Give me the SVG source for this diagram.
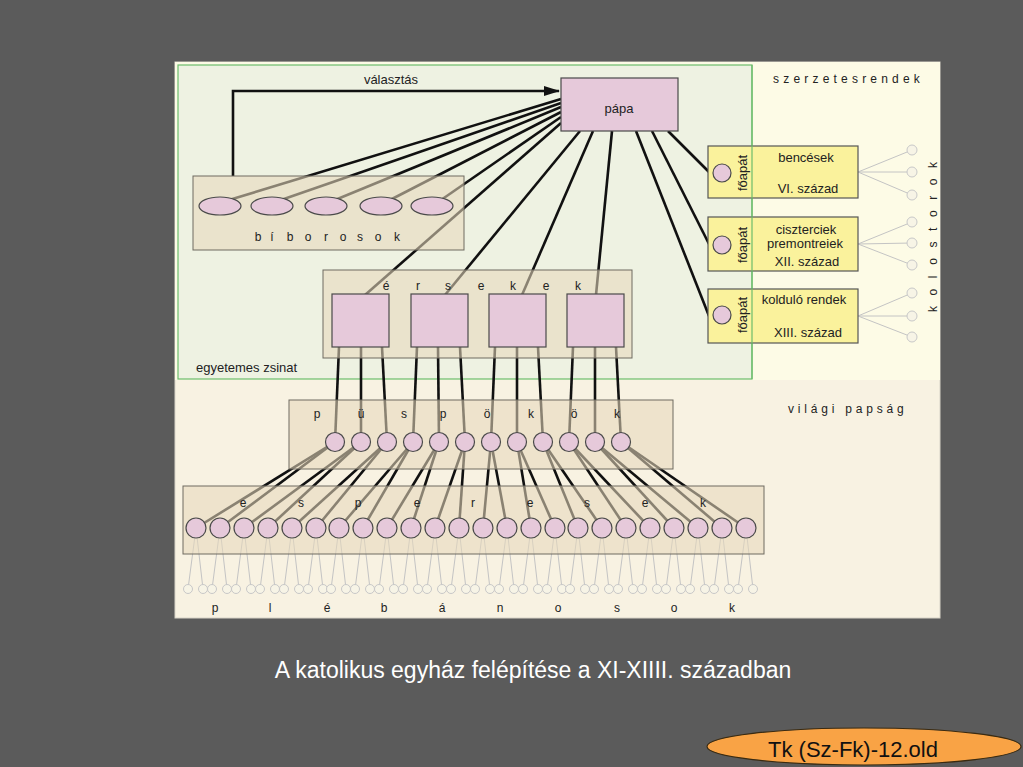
<svg xmlns="http://www.w3.org/2000/svg" xmlns:xlink="http://www.w3.org/1999/xlink" width="1023" height="767" viewBox="0 0 1023 767">
<style>
text{font-family:"Liberation Sans",Arial,sans-serif;fill:#222}
.t13{font-size:13px}
.t12{font-size:12px}
.mid{text-anchor:middle}
.blk{stroke:#111;stroke-width:2.6;fill:none}
.thin{stroke:#c4c4c4;stroke-width:1;fill:none}
.box{fill:#e6d8bc;fill-opacity:0.57;stroke:#6e6a60;stroke-width:1}
.pink{fill:#e6c9da;stroke:#4a4a4a;stroke-width:1.2}
.yel{fill:#faf29c;stroke:#555;stroke-width:1.2}
.sm{fill:#f7f4e6;stroke:#c8c8c8;stroke-width:1}
</style>
<defs>
<marker id="arr" markerWidth="16" markerHeight="10" refX="15" refY="5" orient="auto" markerUnits="userSpaceOnUse">
<polygon points="0,0 16,5 0,10" fill="#111"/>
</marker>
<g id="plLines"><line class="thin" x1="0" y1="0" x2="-8" y2="61"/><line class="thin" x1="0" y1="0" x2="7" y2="61"/></g>
<g id="plNodes"><circle class="sm" cx="-8" cy="61" r="4.5"/><circle class="sm" cx="7" cy="61" r="4.5"/></g>
</defs>
<rect x="0" y="0" width="1023" height="767" fill="#5b5b5b"/>
<rect x="175" y="62" width="765" height="556" fill="#f8f2e2" stroke="#d8d4c8" stroke-width="1"/>
<rect x="175" y="62" width="765" height="318" fill="#fdfbe6"/>
<rect id="zsinat-bg" x="178" y="65" width="574" height="314" fill="#eef2e2" stroke="#6cbc6c" stroke-width="1.2"/>

<g id="connectors">
<path class="blk" d="M233,176 V91 H559" marker-end="url(#arr)"/>
<line class="blk" x1="561" y1="99" x2="229" y2="200"/>
<line class="blk" x1="561" y1="103" x2="281" y2="200"/>
<line class="blk" x1="561" y1="107" x2="335" y2="200"/>
<line class="blk" x1="561" y1="112" x2="390" y2="200"/>
<line class="blk" x1="561" y1="117" x2="441" y2="200"/>
<line class="blk" x1="561" y1="123" x2="365" y2="295"/>
<line class="blk" x1="580" y1="131" x2="445" y2="295"/>
<line class="blk" x1="593" y1="131" x2="522" y2="295"/>
<line class="blk" x1="612" y1="131" x2="596" y2="295"/>
<line class="blk" x1="668" y1="131" x2="709" y2="172"/>
<line class="blk" x1="652" y1="131" x2="709" y2="244"/>
<line class="blk" x1="636" y1="131" x2="709" y2="316"/>
<line class="thin" x1="858" y1="172" x2="912" y2="150"/>
<line class="thin" x1="858" y1="172" x2="912" y2="172"/>
<line class="thin" x1="858" y1="172" x2="912" y2="195"/>
<line class="thin" x1="858" y1="244" x2="912" y2="222"/>
<line class="thin" x1="858" y1="244" x2="912" y2="243"/>
<line class="thin" x1="858" y1="244" x2="912" y2="265"/>
<line class="thin" x1="858" y1="316" x2="912" y2="293"/>
<line class="thin" x1="858" y1="316" x2="912" y2="316"/>
<line class="thin" x1="858" y1="316" x2="912" y2="337"/>
<line class="blk" x1="339" y1="347" x2="335" y2="442"/>
<line class="blk" x1="361" y1="347" x2="361" y2="442"/>
<line class="blk" x1="382" y1="347" x2="387" y2="442"/>
<line class="blk" x1="417" y1="347" x2="413" y2="442"/>
<line class="blk" x1="438" y1="347" x2="439" y2="442"/>
<line class="blk" x1="460" y1="347" x2="465" y2="442"/>
<line class="blk" x1="495" y1="347" x2="491" y2="442"/>
<line class="blk" x1="517" y1="347" x2="517" y2="442"/>
<line class="blk" x1="538" y1="347" x2="543" y2="442"/>
<line class="blk" x1="573" y1="347" x2="569" y2="442"/>
<line class="blk" x1="595" y1="347" x2="595" y2="442"/>
<line class="blk" x1="616" y1="347" x2="621" y2="442"/>
<line class="blk" x1="335" y1="442" x2="196" y2="528"/>
<line class="blk" x1="335" y1="442" x2="220" y2="528"/>
<line class="blk" x1="361" y1="442" x2="244" y2="528"/>
<line class="blk" x1="361" y1="442" x2="268" y2="528"/>
<line class="blk" x1="387" y1="442" x2="292" y2="528"/>
<line class="blk" x1="387" y1="442" x2="316" y2="528"/>
<line class="blk" x1="413" y1="442" x2="339" y2="528"/>
<line class="blk" x1="413" y1="442" x2="363" y2="528"/>
<line class="blk" x1="439" y1="442" x2="387" y2="528"/>
<line class="blk" x1="439" y1="442" x2="411" y2="528"/>
<line class="blk" x1="465" y1="442" x2="435" y2="528"/>
<line class="blk" x1="465" y1="442" x2="459" y2="528"/>
<line class="blk" x1="491" y1="442" x2="483" y2="528"/>
<line class="blk" x1="491" y1="442" x2="507" y2="528"/>
<line class="blk" x1="517" y1="442" x2="531" y2="528"/>
<line class="blk" x1="517" y1="442" x2="555" y2="528"/>
<line class="blk" x1="543" y1="442" x2="578" y2="528"/>
<line class="blk" x1="543" y1="442" x2="602" y2="528"/>
<line class="blk" x1="569" y1="442" x2="626" y2="528"/>
<line class="blk" x1="569" y1="442" x2="650" y2="528"/>
<line class="blk" x1="595" y1="442" x2="674" y2="528"/>
<line class="blk" x1="595" y1="442" x2="698" y2="528"/>
<line class="blk" x1="621" y1="442" x2="722" y2="528"/>
<line class="blk" x1="621" y1="442" x2="746" y2="528"/>
<use href="#plLines" x="196" y="528"/><use href="#plLines" x="220" y="528"/><use href="#plLines" x="244" y="528"/><use href="#plLines" x="268" y="528"/>
<use href="#plLines" x="292" y="528"/><use href="#plLines" x="316" y="528"/><use href="#plLines" x="339" y="528"/><use href="#plLines" x="363" y="528"/>
<use href="#plLines" x="387" y="528"/><use href="#plLines" x="411" y="528"/><use href="#plLines" x="435" y="528"/><use href="#plLines" x="459" y="528"/>
<use href="#plLines" x="483" y="528"/><use href="#plLines" x="507" y="528"/><use href="#plLines" x="531" y="528"/><use href="#plLines" x="555" y="528"/>
<use href="#plLines" x="578" y="528"/><use href="#plLines" x="602" y="528"/><use href="#plLines" x="626" y="528"/><use href="#plLines" x="650" y="528"/>
<use href="#plLines" x="674" y="528"/><use href="#plLines" x="698" y="528"/><use href="#plLines" x="722" y="528"/><use href="#plLines" x="746" y="528"/>
</g>

<g id="papa">
<rect x="561" y="78" width="117" height="53" fill="#e6c9da" stroke="#4a4a4a" stroke-width="1.2"/>
<text class="t13 mid" x="619" y="113">pápa</text>
</g>
<text class="t13 mid" x="391" y="84">választás</text>

<g id="biborosok">
<rect class="box" x="193" y="176" width="271" height="74"/>
<ellipse class="pink" cx="220" cy="206" rx="21" ry="9"/>
<ellipse class="pink" cx="272" cy="206" rx="21" ry="9"/>
<ellipse class="pink" cx="326" cy="206" rx="21" ry="9"/>
<ellipse class="pink" cx="381" cy="206" rx="21" ry="9"/>
<ellipse class="pink" cx="432" cy="206" rx="21" ry="9"/>
<text class="t12 mid" x="258 272 290 308 326 343 360 378 397" y="241">bíborosok</text>
</g>

<g id="ersekek">
<rect class="box" x="323" y="270" width="309" height="88"/>
<rect class="pink" x="332" y="294" width="57" height="53"/>
<rect class="pink" x="411" y="294" width="57" height="53"/>
<rect class="pink" x="489" y="294" width="57" height="53"/>
<rect class="pink" x="567" y="294" width="57" height="53"/>
<text class="t12 mid" x="386 418 448 481 513 546 578" y="290">érsekek</text>
</g>

<g id="puspokok">
<rect class="box" x="289" y="400" width="384" height="69"/>
<text class="t12 mid" x="317 361 404 443 487 531 574 617" y="418">püspökök</text>
<circle class="pink" cx="335" cy="442" r="9.5"/><circle class="pink" cx="361" cy="442" r="9.5"/>
<circle class="pink" cx="387" cy="442" r="9.5"/><circle class="pink" cx="413" cy="442" r="9.5"/>
<circle class="pink" cx="439" cy="442" r="9.5"/><circle class="pink" cx="465" cy="442" r="9.5"/>
<circle class="pink" cx="491" cy="442" r="9.5"/><circle class="pink" cx="517" cy="442" r="9.5"/>
<circle class="pink" cx="543" cy="442" r="9.5"/><circle class="pink" cx="569" cy="442" r="9.5"/>
<circle class="pink" cx="595" cy="442" r="9.5"/><circle class="pink" cx="621" cy="442" r="9.5"/>
</g>

<g id="esperesek">
<rect class="box" x="183" y="486" width="581" height="68"/>
<text class="t12 mid" x="243 301 358 417 473 530 587 645 703" y="507">esperesek</text>
<circle class="pink" cx="196" cy="528" r="10"/><circle class="pink" cx="220" cy="528" r="10"/>
<circle class="pink" cx="244" cy="528" r="10"/><circle class="pink" cx="268" cy="528" r="10"/>
<circle class="pink" cx="292" cy="528" r="10"/><circle class="pink" cx="316" cy="528" r="10"/>
<circle class="pink" cx="339" cy="528" r="10"/><circle class="pink" cx="363" cy="528" r="10"/>
<circle class="pink" cx="387" cy="528" r="10"/><circle class="pink" cx="411" cy="528" r="10"/>
<circle class="pink" cx="435" cy="528" r="10"/><circle class="pink" cx="459" cy="528" r="10"/>
<circle class="pink" cx="483" cy="528" r="10"/><circle class="pink" cx="507" cy="528" r="10"/>
<circle class="pink" cx="531" cy="528" r="10"/><circle class="pink" cx="555" cy="528" r="10"/>
<circle class="pink" cx="578" cy="528" r="10"/><circle class="pink" cx="602" cy="528" r="10"/>
<circle class="pink" cx="626" cy="528" r="10"/><circle class="pink" cx="650" cy="528" r="10"/>
<circle class="pink" cx="674" cy="528" r="10"/><circle class="pink" cx="698" cy="528" r="10"/>
<circle class="pink" cx="722" cy="528" r="10"/><circle class="pink" cx="746" cy="528" r="10"/>
</g>

<g id="plebanosok">
<use href="#plNodes" x="196" y="528"/><use href="#plNodes" x="220" y="528"/><use href="#plNodes" x="244" y="528"/><use href="#plNodes" x="268" y="528"/>
<use href="#plNodes" x="292" y="528"/><use href="#plNodes" x="316" y="528"/><use href="#plNodes" x="339" y="528"/><use href="#plNodes" x="363" y="528"/>
<use href="#plNodes" x="387" y="528"/><use href="#plNodes" x="411" y="528"/><use href="#plNodes" x="435" y="528"/><use href="#plNodes" x="459" y="528"/>
<use href="#plNodes" x="483" y="528"/><use href="#plNodes" x="507" y="528"/><use href="#plNodes" x="531" y="528"/><use href="#plNodes" x="555" y="528"/>
<use href="#plNodes" x="578" y="528"/><use href="#plNodes" x="602" y="528"/><use href="#plNodes" x="626" y="528"/><use href="#plNodes" x="650" y="528"/>
<use href="#plNodes" x="674" y="528"/><use href="#plNodes" x="698" y="528"/><use href="#plNodes" x="722" y="528"/><use href="#plNodes" x="746" y="528"/>
<text class="t12 mid" x="215 270 327 384 442 500 558 617 674 732" y="612">plébánosok</text>
</g>

<g id="bencesek">
<rect class="yel" x="708" y="146" width="150" height="52"/>
<circle class="pink" cx="722" cy="173" r="9"/>
<text class="t13 mid" transform="translate(747,173) rotate(-90)">főapát</text>
<text class="t13 mid" x="806" y="162">bencések</text>
<text class="t13 mid" x="808" y="193">VI. század</text>
</g>
<g id="ciszterciek">
<rect class="yel" x="708" y="217" width="150" height="54"/>
<circle class="pink" cx="722" cy="245" r="9"/>
<text class="t13 mid" transform="translate(747,245) rotate(-90)">főapát</text>
<text class="t13 mid" x="806" y="234">ciszterciek</text>
<text class="t13 mid" x="805" y="248">premontreiek</text>
<text class="t13 mid" x="807" y="266">XII. század</text>
</g>
<g id="koldulo">
<rect class="yel" x="708" y="289" width="150" height="54"/>
<circle class="pink" cx="722" cy="315" r="9"/>
<text class="t13 mid" transform="translate(747,315) rotate(-90)">főapát</text>
<text class="t13 mid" x="804" y="304">kolduló rendek</text>
<text class="t13 mid" x="808" y="337">XIII. század</text>
</g>
<g id="kolostorok">
<circle class="sm" cx="912" cy="150" r="5"/><circle class="sm" cx="912" cy="172" r="5"/><circle class="sm" cx="912" cy="195" r="5"/>
<circle class="sm" cx="912" cy="222" r="5"/><circle class="sm" cx="912" cy="243" r="5"/><circle class="sm" cx="912" cy="265" r="5"/>
<circle class="sm" cx="912" cy="293" r="5"/><circle class="sm" cx="912" cy="316" r="5"/><circle class="sm" cx="912" cy="337" r="5"/>
<text class="t12" transform="translate(937,312) rotate(-90)" letter-spacing="10.6">kolostorok</text>
</g>

<line x1="752" y1="65" x2="752" y2="379" stroke="#6cbc6c" stroke-width="1.2"/>
<text class="t13" x="196" y="372">egyetemes zsinat</text>
<text class="t12" x="773" y="83" letter-spacing="4.2">szerzetesrendek</text>
<text class="t12" x="788" y="413" letter-spacing="3.8">világi papság</text>

<text x="533" y="678" style="font-size:23px;fill:#fff;text-anchor:middle">A katolikus egyház felépítése a XI-XIIII. században</text>
<g id="label">
<ellipse cx="864" cy="746.5" rx="157" ry="18.5" fill="#f9a345" stroke="#3a2a10" stroke-width="1.2"/>
<text x="853" y="757" style="font-size:22px;fill:#111;text-anchor:middle">Tk (Sz-Fk)-12.old</text>
</g>
</svg>
